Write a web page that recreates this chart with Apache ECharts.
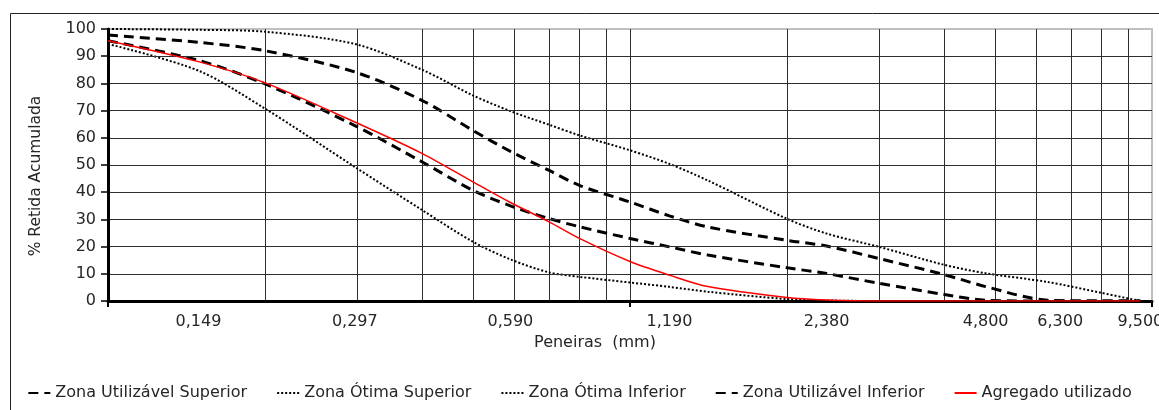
<!DOCTYPE html>
<html>
<head>
<meta charset="utf-8">
<script src="https://cdn.jsdelivr.net/npm/echarts@6/dist/echarts.min.js"></script>
<style>
	html, body { margin: 0; padding: 0; background: #fff; }
	#chart { width: 1159px; height: 410px; }
</style>
</head>
<body>
<div id="chart"></div>
<script>
// abertura das peneiras (mm), eixo logaritmico
const sieveX = [0.1, 0.149, 0.2, 0.297, 0.4, 0.5, 0.59, 0.7, 0.8, 1.0, 1.19, 1.41, 2.0, 2.38, 3.0, 4.0, 4.8, 6.3, 8.0, 9.5];
// % retida acumulada
const utilSup  = [97.8, 95.1, 92, 84.2, 73.7, 62.7, 55, 48, 42.5, 36.4, 31.3, 27.2, 22.3, 20.2, 15.6, 9.7, 5.3, 0.3, 0, 0];
const otimaSup = [100, 99.7, 99, 94.5, 85, 75.6, 69.8, 64.8, 60.9, 55.4, 50.4, 44.3, 30.2, 24.8, 19.9, 13.3, 10.2, 7, 3, 0];
const otimaInf = [94.5, 84.7, 70.7, 49.3, 33.4, 21.8, 15.3, 10.5, 8.9, 6.8, 5.2, 3.4, 0.7, 0.2, 0, 0, 0, 0, 0, 0];
const utilInf  = [95.7, 88.5, 79.8, 64.5, 51.1, 40.7, 35, 30.3, 27.3, 23, 19.9, 16.9, 12.2, 10.1, 6.5, 2.4, 0.3, 0, 0, 0];
const agregado = [95.7, 88, 80.2, 65.8, 54.2, 43.8, 36.2, 29.1, 23, 14.5, 9.5, 5.3, 1.3, 0.4, 0, 0, 0, 0, 0, 0];

// rotulos do eixo x e linhas de grade verticais
const sieveLabels = [0.149, 0.297, 0.59, 1.19, 2.38, 4.8, 6.3, 9.5];
const gridX = [0.2, 0.3, 0.4, 0.5, 0.6, 0.7, 0.8, 0.9, 1, 2, 3, 4, 5, 6, 7, 8, 9];

const FONT = 'DejaVu Sans';
const TXT = '#262626';

function pairs(ys) {
	return sieveX.map((x, i) => [x, ys[i]]);
}

let chart = echarts.init(document.getElementById('chart'), null, { renderer: 'canvas' });

let dashed = { color: '#000', width: 3, type: [10, 6], cap: 'butt' };
let dotted = { color: '#000', width: 2, type: [2, 2], cap: 'butt' };

let option = {
	animation: false,
	textStyle: { fontFamily: FONT, color: TXT },
	graphic: [{
		type: 'rect',
		shape: { x: 10.5, y: 13.5, width: 1300, height: 600 },
		style: { fill: 'none', stroke: '#222', lineWidth: 1 },
		z: -10
	}],
	grid: {
		left: 108, right: 7, top: 29, bottom: 109,
		containLabel: false,
		outerBoundsMode: 'none',
		show: true,
		borderColor: '#c0c0c0',
		borderWidth: 2,
		backgroundColor: 'transparent'
	},
	legend: {
		top: 380,
		left: 'center',
		itemWidth: 22,
		itemHeight: 12,
		itemGap: 29,
		itemStyle: { opacity: 0 },
		textStyle: { fontFamily: FONT, fontSize: 16, color: TXT },
		data: ['Zona Utilizável Superior', 'Zona Ótima Superior', 'Zona Ótima Inferior', 'Zona Utilizável Inferior', 'Agregado utilizado']
	},
	xAxis: [{
		type: 'log',
		logBase: 10,
		min: 0.1,
		max: 10,
		name: 'Peneiras  (mm)',
		nameLocation: 'middle',
		nameGap: 32,
		nameTextStyle: { fontFamily: FONT, fontSize: 16, color: TXT, padding: [0, 70, 0, 0] },
		axisLine: { onZero: false, lineStyle: { color: '#000', width: 3 } },
		axisTick: { show: true, length: 6, lineStyle: { color: '#000', width: 2 } },
		axisLabel: {
			customValues: sieveLabels,
			margin: 13,
			fontFamily: FONT,
			fontSize: 16,
			color: TXT,
			formatter: function (v) {
				let s = Number(v).toFixed(3).replace('.', ',');
				if (Math.abs(v - 6.3) < 1e-6) return '{r|' + s + '}';
				return s;
			},
			rich: {
				r: { fontFamily: FONT, fontSize: 16, color: TXT, padding: [0, 0, 0, 26] }
			}
		},
		splitLine: { show: false },
		z: 5
	}, {
		type: 'log',
		logBase: 10,
		min: 0.1,
		max: 10,
		position: 'bottom',
		axisLine: { show: false },
		axisTick: { show: false, customValues: gridX },
		axisLabel: { show: false },
		splitLine: { show: true, lineStyle: { color: '#2e2e2e', width: 1 } }
	}],
	yAxis: {
		type: 'value',
		min: 0,
		max: 100,
		interval: 10,
		name: '% Retida Acumulada',
		nameLocation: 'middle',
		nameGap: 64,
		nameTextStyle: { fontFamily: FONT, fontSize: 15.5, color: TXT, padding: [0, 22, 0, 0] },
		axisLine: { show: true, lineStyle: { color: '#000', width: 3 } },
		axisTick: { show: true, length: 7, lineStyle: { color: '#000', width: 1.5 } },
		axisLabel: { margin: 12, fontFamily: FONT, fontSize: 16, color: TXT },
		splitLine: { show: true, showMaxLine: false, lineStyle: { color: '#2e2e2e', width: 1 } },
		z: 5
	},
	series: [{
		name: 'Zona Utilizável Superior',
		type: 'line',
		data: pairs(utilSup),
		symbol: 'none',
		smooth: 0.3,
		lineStyle: dashed,
		itemStyle: { color: '#000' }
	}, {
		name: 'Zona Ótima Superior',
		type: 'line',
		data: pairs(otimaSup),
		symbol: 'none',
		smooth: 0.3,
		lineStyle: dotted,
		itemStyle: { color: '#000' }
	}, {
		name: 'Zona Ótima Inferior',
		type: 'line',
		data: pairs(otimaInf),
		symbol: 'none',
		smooth: 0.3,
		lineStyle: dotted,
		itemStyle: { color: '#000' }
	}, {
		name: 'Zona Utilizável Inferior',
		type: 'line',
		data: pairs(utilInf),
		symbol: 'none',
		smooth: 0.3,
		lineStyle: dashed,
		itemStyle: { color: '#000' }
	}, {
		name: 'Agregado utilizado',
		type: 'line',
		data: pairs(agregado),
		symbol: 'none',
		smooth: 0.3,
		lineStyle: { color: '#ff0000', width: 1.5 },
		itemStyle: { color: '#ff0000' },
		z: 10
	}]
};

chart.setOption(option);
</script>
</body>
</html>
